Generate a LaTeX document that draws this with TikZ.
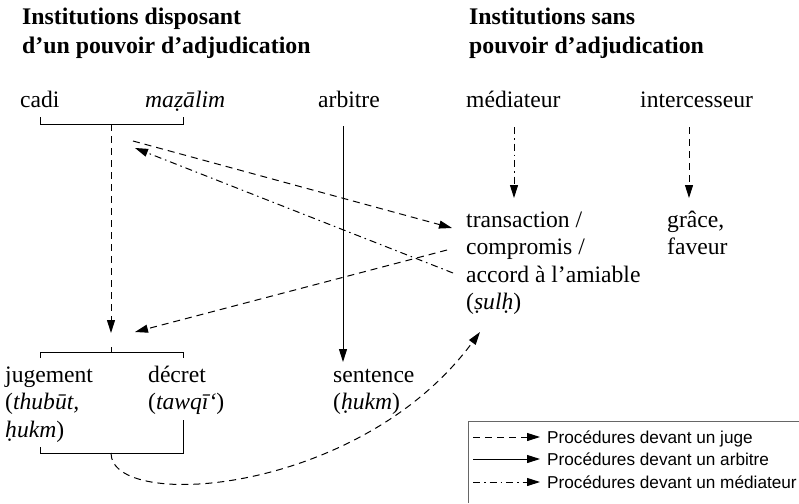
\documentclass[tikz,border=0pt]{standalone}
\usepackage{fontspec}
\setmainfont{Liberation Serif}
\newfontfamily\legfont{Liberation Sans}
\usetikzlibrary{arrows.meta}
\begin{document}
\begin{tikzpicture}[x=1pt,y=-1pt,
  txt/.style={inner sep=0pt,anchor=base west,font=\fontsize{23.6}{27.5}\selectfont},
  head/.style={inner sep=0pt,anchor=base west,font=\fontsize{23.8}{29}\selectfont\bfseries},
  leg/.style={inner sep=0pt,anchor=base west,font=\legfont\fontsize{17.2}{22}\selectfont},
  ln/.style={line width=1pt},
  tip/.style={-{Triangle[length=13pt,width=8pt]}},
  judge/.style={ln,tip,dash pattern=on 7pt off 5pt},
  arb/.style={ln,tip},
  med/.style={ln,tip,dash pattern=on 7pt off 4pt on 1.5pt off 4pt},
]
\useasboundingbox (0,0) rectangle (799,503);
% headings
\node[head] (h1a) at (22,25) {Institutions disposant};
\node[head] (h1b) at (22,53) {d’un pouvoir d’adjudication};
\node[head] (h2a) at (469,25) {Institutions sans};
\node[head] (h2b) at (469,53) {pouvoir d’adjudication};
% top row
\node[txt] (cadi) at (20,107) {cadi};
\node[txt] (mazalim) at (145,107) {\itshape maẓālim};
\node[txt] (arbitre) at (318,107) {arbitre};
\node[txt] (mediateur) at (466,107) {médiateur};
\node[txt] (intercesseur) at (640,107) {intercesseur};
% middle right
\node[txt] (tr1) at (466,227) {transaction /};
\node[txt] (tr2) at (466,254.5) {compromis /};
\node[txt] (tr3) at (466,282) {accord à l’amiable};
\node[txt] (tr4) at (466,309.5) {(\textit{ṣulḥ})};
\node[txt] (gr1) at (667,227) {grâce,};
\node[txt] (gr2) at (667,254.5) {faveur};
% bottom row
\node[txt] (ju1) at (5,382) {jugement};
\node[txt] (ju2) at (5,409.5) {(\textit{thubūt,}};
\node[txt] (ju3) at (5,437) {\textit{ḥukm})};
\node[txt] (de1) at (148,382) {décret};
\node[txt] (de2) at (148,409.5) {(\textit{tawqī‘})};
\node[txt] (se1) at (333,382) {sentence};
\node[txt] (se2) at (333,409.5) {(\textit{ḥukm})};
% brackets
\coordinate (topc) at (111,124);
\draw[ln] (40,117) -- (40,124) -- (183,124) -- (183,117);
\coordinate (midc) at (111,352);
\draw[ln] (40,358) -- (40,352) -- (183,352) -- (183,358);
\draw[ln] (midc) -- (111,347);
\coordinate (botc) at (111,453);
\draw[ln] (40,447) -- (40,453) -- (183,453) -- (183,420);
% connector end points
\coordinate (decin) at (111,333);
\coordinate (decin2) at (135,332);
\coordinate (mazout) at (133,141);
\coordinate (mazin) at (135,148);
\coordinate (trin) at (452,228);
\coordinate (trout1) at (447,250);
\coordinate (trout2) at (453,273);
\coordinate (sulin) at (480,332);
\coordinate (arbtop) at (343,126);
\coordinate (arbbot) at (343,362);
\coordinate (medtop) at (514,127);
\coordinate (medbot) at (514,198);
\coordinate (inttop) at (689,127);
\coordinate (intbot) at (689,198);
% connectors
\draw[judge] (topc) -- (decin);
\draw[arb] (arbtop) -- (arbbot);
\draw[med] (medtop) -- (medbot);
\draw[judge] (inttop) -- (intbot);
\draw[judge] (mazout) -- (trin);
\draw[med] (trout2) -- (mazin);
\draw[judge] (trout1) -- (decin2);
\draw[judge] (botc) .. controls (111,512) and (360,495) .. (sulin);
% legend
\draw[line width=0.8pt,black!60] (468,503) -- (468,421) -- (799,421);
\coordinate (l1a) at (473,437); \coordinate (l1b) at (540,437);
\coordinate (l2a) at (473,459); \coordinate (l2b) at (540,459);
\coordinate (l3a) at (473,482); \coordinate (l3b) at (540,482);
\draw[judge] (l1a) -- (l1b);
\draw[arb] (l2a) -- (l2b);
\draw[med] (l3a) -- (l3b);
\node[leg] (lt1) at (547,443) {Procédures devant un juge};
\node[leg] (lt2) at (547,465) {Procédures devant un arbitre};
\node[leg] (lt3) at (547,488) {Procédures devant un médiateur};
\end{tikzpicture}
\end{document}
